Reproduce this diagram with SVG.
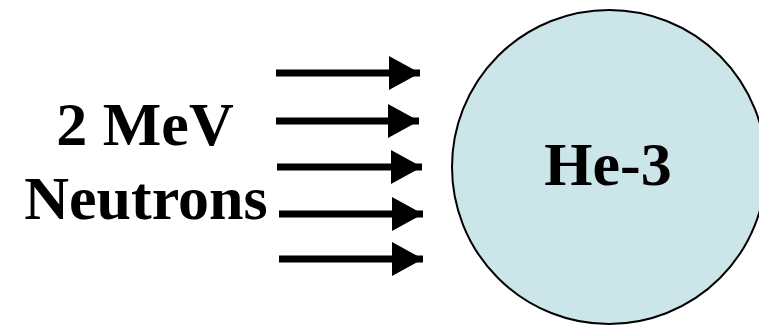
<svg xmlns="http://www.w3.org/2000/svg" width="759" height="327" viewBox="0 0 759 327">
<style>
.t{font-family:"Liberation Serif","Times New Roman",serif;font-weight:bold;font-size:62px;fill:#000}
.a{stroke:#000;stroke-width:7;fill:none}
</style>
<defs>
<marker id="ah" markerUnits="userSpaceOnUse" markerWidth="34" markerHeight="36" refX="31" refY="17" orient="auto" viewBox="0 0 34 36">
<path d="M0,0 L31,17 L0,34 Z" fill="#000"/>
</marker>
</defs>
<g id="he3">
<circle cx="609" cy="167" r="157" fill="#cce5e8" stroke="#000" stroke-width="2"/>
<text class="t" x="608" y="185" text-anchor="middle">He-3</text>
</g>
<g id="label">
<text class="t" x="145" y="145" text-anchor="middle">2 MeV</text>
<text class="t" x="146" y="219" text-anchor="middle">Neutrons</text>
</g>
<g id="connectors">
<line class="a" x1="276" y1="73" x2="420" y2="73" marker-end="url(#ah)"/>
<line class="a" x1="276" y1="121" x2="419" y2="121" marker-end="url(#ah)"/>
<line class="a" x1="277" y1="167" x2="422" y2="167" marker-end="url(#ah)"/>
<line class="a" x1="279" y1="214" x2="423" y2="214" marker-end="url(#ah)"/>
<line class="a" x1="279" y1="259" x2="423" y2="259" marker-end="url(#ah)"/>
</g>
</svg>
